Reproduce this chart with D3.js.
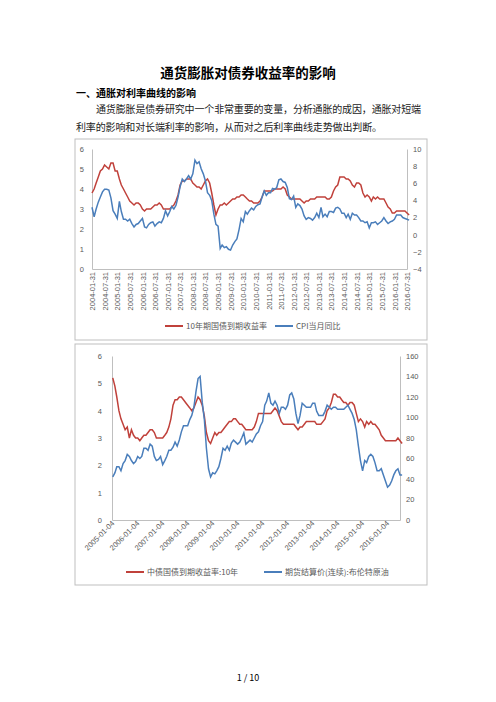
<!DOCTYPE html>
<html><head><meta charset="utf-8">
<script src="https://cdn.jsdelivr.net/npm/d3@7"></script>
<style>body{margin:0;background:#fff}svg{display:block}</style>
</head><body>
<svg id="page" width="496" height="702"></svg>
<script>
// chart 1: monthly, 2004-01 .. 2016-08
var yield1 = [
 3.8,4.0,4.3,4.6,4.9,5.0,5.2,5.1,5.0,5.3,5.3,4.9,
 4.9,4.5,4.2,4.0,3.8,3.6,3.4,3.3,3.2,3.3,3.3,3.2,
 3.0,2.9,3.0,3.0,3.0,3.1,3.2,3.2,3.3,3.2,3.0,3.0,
 3.0,3.0,3.1,3.2,3.4,3.7,4.2,4.4,4.4,4.5,4.5,4.5,
 4.3,4.2,4.1,4.1,4.0,4.2,4.4,4.5,4.3,3.8,3.2,2.7,
 3.0,3.2,3.2,3.3,3.2,3.3,3.4,3.5,3.5,3.6,3.6,3.7,
 3.7,3.6,3.5,3.4,3.4,3.3,3.3,3.3,3.4,3.6,3.9,3.9,
 3.9,3.9,3.9,4.0,4.0,4.0,4.0,4.1,4.0,3.7,3.6,3.5,
 3.5,3.5,3.5,3.5,3.4,3.3,3.4,3.4,3.5,3.5,3.5,3.6,
 3.6,3.6,3.6,3.6,3.5,3.5,3.6,3.9,4.1,4.2,4.6,4.6,
 4.6,4.5,4.5,4.4,4.2,4.1,4.3,4.3,4.2,3.8,3.6,3.7,
 3.6,3.4,3.6,3.5,3.6,3.5,3.5,3.5,3.3,3.1,3.0,2.8,
 2.8,2.9,2.9,2.9,2.9,2.9,2.8,2.7];
var cpi = [
 3.2,2.1,3.0,3.8,4.4,5.0,5.3,5.3,5.2,4.3,2.8,2.4,
 1.9,3.9,2.7,1.8,1.8,1.6,1.8,1.3,0.9,1.2,1.3,1.6,
 1.9,0.9,0.8,1.2,1.4,1.5,1.0,1.3,1.5,1.4,1.9,2.8,
 2.2,2.7,3.3,3.0,3.4,4.4,5.6,6.5,6.2,6.5,6.9,6.5,
 7.1,8.7,8.3,8.5,7.7,7.1,6.3,4.9,4.6,4.0,2.4,1.2,
 1.0,-1.6,-1.2,-1.5,-1.4,-1.7,-1.8,-1.2,-0.8,-0.5,0.6,1.9,
 1.5,2.7,2.4,2.8,3.1,2.9,3.3,3.5,3.6,4.4,5.1,4.6,
 4.9,4.9,5.4,5.3,5.5,6.4,6.5,6.2,6.1,5.5,4.2,4.1,
 4.5,3.2,3.6,3.4,3.0,2.2,1.8,2.0,1.9,1.7,2.0,2.5,
 2.0,3.2,2.1,2.4,2.1,2.7,2.7,2.6,3.1,3.2,3.0,2.5,
 2.5,2.0,2.4,1.8,2.5,2.3,2.3,2.0,1.6,1.6,1.4,1.5,
 0.8,1.4,1.4,1.5,1.2,1.4,1.6,2.0,1.6,1.3,1.5,1.6,
 1.8,2.3,2.3,2.3,2.0,1.9,1.8,1.7];
// chart 2: monthly, 2005-01 .. 2016-08
var yield2 = [
 5.2,4.9,4.5,4.0,3.7,3.5,3.3,3.4,3.0,3.3,3.1,3.0,
 3.0,2.9,3.0,3.1,3.1,3.2,3.3,3.3,3.2,3.0,3.0,3.0,
 3.0,3.1,3.2,3.4,3.7,4.2,4.4,4.4,4.5,4.5,4.4,4.3,
 4.2,4.1,4.0,4.1,4.3,4.5,4.4,4.2,3.8,3.2,2.9,2.8,
 3.0,3.2,3.1,3.2,3.2,3.3,3.4,3.5,3.6,3.6,3.7,3.7,
 3.6,3.5,3.5,3.4,3.3,3.3,3.3,3.3,3.4,3.6,3.9,3.9,
 3.9,3.9,3.9,3.9,3.9,4.0,4.1,4.0,3.8,3.6,3.5,3.5,
 3.5,3.5,3.5,3.5,3.4,3.3,3.4,3.4,3.5,3.6,3.6,3.6,
 3.6,3.6,3.5,3.5,3.5,3.6,3.7,4.0,4.1,4.3,4.6,4.6,
 4.5,4.5,4.4,4.3,4.3,4.2,4.3,4.3,4.2,3.9,3.6,3.7,
 3.6,3.4,3.6,3.5,3.6,3.5,3.5,3.4,3.3,3.1,3.0,2.9,
 2.9,2.9,2.9,2.9,2.9,3.0,2.9,2.8];
var brent = [
 42,46,52,52,48,55,58,64,62,58,55,57,
 62,60,62,70,70,68,74,72,62,58,59,62,
 54,58,62,68,68,71,76,72,78,86,92,92,
 92,98,102,110,125,138,140,115,98,70,50,42,
 46,45,48,52,60,70,68,72,68,75,78,76,
 74,76,80,85,74,76,78,76,80,84,86,92,
 96,112,116,124,114,112,116,112,104,110,110,108,
 112,122,124,118,104,94,102,114,112,110,110,110,
 114,114,106,102,102,102,106,112,110,108,110,110,
 108,108,108,108,110,112,108,104,98,88,72,58,
 48,58,56,62,64,62,56,48,48,50,44,38,
 32,34,38,44,48,50,44,44];
var left1Ticks = [0,1,2,3,4,5,6], right1Ticks = [-4,-2,0,2,4,6,8,10];
var left2Ticks = [0,1,2,3,4,5,6], right2Ticks = [0,20,40,60,80,100,120,140,160];
var legend1 = ["10年期国债到期收益率","CPI当月同比"];
var legend2 = ["中债国债到期收益率:10年","期货结算价(连续):布伦特原油"];

var RED = "#c0413b", BLUE = "#4a7ebb", GREY = "#595959";
var svg = d3.select("#page");
var fmt = d3.timeFormat("%Y-%m-%d");

svg.append("text").attr("x",248).attr("y",78).attr("text-anchor","middle")
  .style("font-family","Noto Sans CJK SC").style("font-weight","bold").style("font-size","13.5px")
  .text("通货膨胀对债券收益率的影响");
svg.append("text").attr("x",76).attr("y",97)
  .style("font-family","Noto Sans CJK SC").style("font-weight","bold").style("font-size","10px")
  .text("一、通胀对利率曲线的影响");
svg.append("text").attr("x",96).attr("y",113).attr("textLength",325).attr("lengthAdjust","spacing")
  .style("font-family","Noto Sans CJK SC").style("font-size","10px").style("fill","#222")
  .text("通货膨胀是债券研究中一个非常重要的变量，分析通胀的成因，通胀对短端");
svg.append("text").attr("x",76).attr("y",131).attr("textLength",306).attr("lengthAdjust","spacing")
  .style("font-family","Noto Sans CJK SC").style("font-size","10px").style("fill","#222")
  .text("利率的影响和对长端利率的影响，从而对之后利率曲线走势做出判断。");
svg.append("text").attr("x",248).attr("y",681).attr("text-anchor","middle")
  .style("font-family","Noto Sans CJK SC").style("font-size","9px").text("1 / 10");

function months(start, n){ return d3.range(n).map(function(i){ return d3.timeMonth.offset(start, i); }); }

function chart(o){
  svg.append("rect").attr("x",o.box[0]).attr("y",o.box[1]).attr("width",o.box[2]).attr("height",o.box[3])
    .attr("fill","#fff").attr("stroke","#bfbfbf").attr("stroke-width",1);
  var x = d3.scaleTime().domain(o.xdom).range([o.x0,o.x1]);
  var yl = d3.scaleLinear().domain(d3.extent(o.lt)).range([o.y1,o.y0]);
  var yr = d3.scaleLinear().domain(d3.extent(o.rt)).range([o.y1,o.y0]);
  var g = svg.append("g");
  var la = g.append("g").attr("transform","translate("+o.x0+",0)").call(d3.axisLeft(yl).tickValues(o.lt).tickFormat(d3.format("d")).tickSize(0).tickPadding(o.padL));
  var ra = g.append("g").attr("transform","translate("+o.x1+",0)").call(d3.axisRight(yr).tickValues(o.rt).tickFormat(d3.format("d")).tickSize(0).tickPadding(6));
  var ba = g.append("g").attr("transform","translate(0,"+o.y1+")").call(d3.axisBottom(x).tickValues(o.xt).tickFormat(fmt).tickSize(0));
  [la,ra,ba].forEach(function(a){
    a.select(".domain").attr("stroke","#bfbfbf");
    a.selectAll("text").style("font-family","Liberation Sans").style("font-size","7.5px").attr("fill",GREY);
  });
  ba.selectAll("text").attr("transform",o.rot).attr("text-anchor","end").attr("dy",o.rdy).attr("dx",o.rdx).attr("y",0).attr("x",0);
  var dates = months(o.start, o.a.length);
  g.append("path").datum(o.a).attr("fill","none").attr("stroke",RED).attr("stroke-width",1.5)
    .attr("d", d3.line().x(function(d,i){return x(dates[i]);}).y(function(d){return yl(d);}));
  g.append("path").datum(o.b).attr("fill","none").attr("stroke",BLUE).attr("stroke-width",1.5)
    .attr("d", d3.line().x(function(d,i){return x(dates[i]);}).y(function(d){return yr(d);}));
  var lg = svg.append("g").attr("transform","translate(0,"+o.ly+")");
  [[RED,o.leg[0],o.lx[0]],[BLUE,o.leg[1],o.lx[1]]].forEach(function(l){
    lg.append("line").attr("x1",l[2]).attr("x2",l[2]+18).attr("stroke",l[0]).attr("stroke-width",2);
    lg.append("text").attr("x",l[2]+21).attr("y",3).style("font-family","Noto Sans CJK SC").style("font-size","8px").attr("fill",GREY).text(l[1]);
  });
}

chart({box:[75,139,352,201], x0:92, x1:407, y0:149, y1:269, padL:8,
  xdom:[new Date(2004,0,31), new Date(2016,6,31)],
  xt:d3.range(26).map(function(i){ var d=new Date(2004,i*6,1); return new Date(d.getFullYear(),d.getMonth()+1,0); }),
  lt:left1Ticks, rt:right1Ticks, start:new Date(2004,0,31), a:yield1, b:cpi,
  rot:"rotate(-90)", rdy:"0.35em", rdx:"-3",
  leg:legend1, lx:[165,275], ly:326});

chart({box:[75,344,352,241], x0:112, x1:400, y0:356, y1:520, padL:10,
  xdom:[new Date(2005,0,4), new Date(2016,6,15)],
  xt:d3.range(12).map(function(i){ return new Date(2005+i,0,4); }),
  lt:left2Ticks, rt:right2Ticks, start:new Date(2005,0,15), a:yield2, b:brent,
  rot:"rotate(-45)", rdy:"0.6em", rdx:"-1",
  leg:legend2, lx:[126,264], ly:572});
</script>
</body></html>
